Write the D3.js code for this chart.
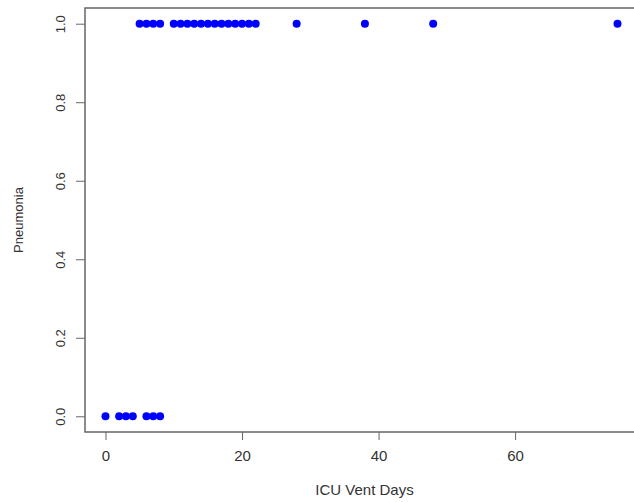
<!DOCTYPE html>
<html>
<head>
<meta charset="utf-8">
<script src="https://cdn.jsdelivr.net/npm/d3@7"></script>
<style>
  body { margin: 0; background: #fff; }
  text { font-family: "Liberation Sans", Arial, sans-serif; fill: #333; }
</style>
</head>
<body>
<script>
// ICU vent days vs pneumonia (0/1)
const ventDays = [0, 2, 3, 4, 6, 7, 8,
  5, 6, 7, 8, 10, 11, 12, 13, 14, 15, 16, 17, 18, 19, 20, 21, 22, 28, 38, 48, 75];
const pneumonia = [0, 0, 0, 0, 0, 0, 0,
  1, 1, 1, 1, 1, 1, 1, 1, 1, 1, 1, 1, 1, 1, 1, 1, 1, 1, 1, 1, 1];
const xTicks = [0, 20, 40, 60];
const yTicks = [0, 0.2, 0.4, 0.6, 0.8, 1.0];

const width = 634;
const height = 502;
const box = { left: 85, top: 8, right: 638, bottom: 432 };

const svg = d3.select('body')
  .append('svg')
  .attr('width', width)
  .attr('height', height);

const x = d3.scaleLinear().domain([-3, 78]).range([box.left, box.right]);
const y = d3.scaleLinear().domain([-0.04, 1.04]).range([box.bottom, box.top]);

const axisColor = '#666';

// x axis
const gx = svg.append('g')
  .attr('transform', `translate(0, ${box.bottom})`)
  .call(d3.axisBottom(x).tickValues(xTicks).tickSize(8).tickPadding(10).tickFormat(d3.format('d')));
gx.select('.domain').remove();
gx.selectAll('line').attr('stroke', axisColor);
gx.selectAll('text').style('font-size', '15px').attr('fill', '#333');

// y axis, labels rotated like R
const gy = svg.append('g')
  .attr('transform', `translate(${box.left}, 0)`)
  .call(d3.axisLeft(y).tickValues(yTicks).tickSize(9).tickFormat(d3.format('.1f')));
gy.select('.domain').remove();
gy.selectAll('line').attr('stroke', axisColor);
gy.selectAll('text')
  .attr('transform', 'rotate(-90)')
  .attr('x', 0)
  .attr('y', -20)
  .attr('dy', 0)
  .attr('text-anchor', 'middle')
  .style('font-size', '13px')
  .attr('fill', '#333');

// box
svg.append('rect')
  .attr('x', box.left)
  .attr('y', box.top)
  .attr('width', box.right - box.left)
  .attr('height', box.bottom - box.top)
  .attr('fill', 'none')
  .attr('stroke', axisColor)
  .attr('stroke-width', 1.5);

// points
const pts = ventDays.map((d, i) => ({ x: d, y: pneumonia[i] }));
svg.append('g')
  .selectAll('circle')
  .data(pts)
  .enter()
  .append('circle')
  .attr('cx', (d) => x(d.x))
  .attr('cy', (d) => y(d.y))
  .attr('r', 4)
  .attr('fill', '#0000ff');

// axis titles
svg.append('text')
  .attr('x', (box.left + 634) / 2 + 5)
  .attr('y', 495)
  .attr('text-anchor', 'middle')
  .style('font-size', '15px')
  .text('ICU Vent Days');

svg.append('text')
  .attr('transform', `translate(23, ${y(0.5)}) rotate(-90)`)
  .attr('text-anchor', 'middle')
  .style('font-size', '13px')
  .text('Pneumonia');
</script>
</body>
</html>
